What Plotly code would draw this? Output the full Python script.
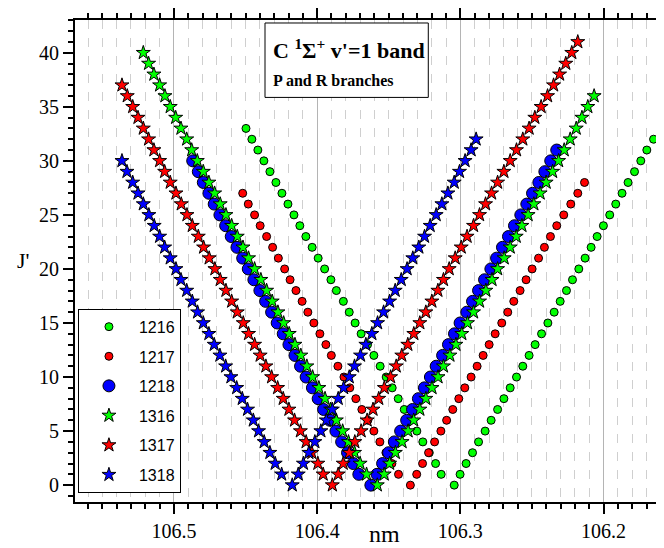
import plotly.graph_objects as go

# ---------------- data (wavelength in nm, J' upper-level rotational number) ----------------
J_1216_P = list(range(33, -1, -1))
nm_1216_P = [106.4497, 106.4456, 106.4414, 106.4372, 106.4330, 106.4288, 106.4246, 106.4204,
             106.4162, 106.4121, 106.4079, 106.4035, 106.3993, 106.3948, 106.3904, 106.3866,
             106.3817, 106.3776, 106.3735, 106.3693, 106.3648, 106.3604, 106.3560, 106.3518,
             106.3476, 106.3434, 106.3392, 106.3348, 106.3304, 106.3262, 106.3217, 106.3173,
             106.3134, 106.3043]
J_1216_R = list(range(1, 33))
nm_1216_R = [106.3002, 106.2960, 106.2915, 106.2873, 106.2827, 106.2785, 106.2740, 106.2696,
             106.2652, 106.2608, 106.2564, 106.2520, 106.2478, 106.2433, 106.2389, 106.2345,
             106.2303, 106.2259, 106.2217, 106.2173, 106.2129, 106.2087, 106.2045, 106.2001,
             106.1957, 106.1915, 106.1871, 106.1829, 106.1784, 106.1740, 106.1698, 106.1651]

J_1217_P = list(range(27, -1, -1))
nm_1217_P = [106.4520, 106.4481, 106.4437, 106.4398, 106.4353, 106.4311, 106.4271, 106.4227,
             106.4189, 106.4148, 106.4105, 106.4065, 106.4023, 106.3981, 106.3939, 106.3901,
             106.3855, 106.3813, 106.3772, 106.3730, 106.3688, 106.3646, 106.3604, 106.3562,
             106.3520, 106.3478, 106.3432, 106.3349]
J_1217_R = list(range(1, 29))
nm_1217_R = [106.3305, 106.3264, 106.3222, 106.3180, 106.3136, 106.3096, 106.3053, 106.3011,
             106.2969, 106.2925, 106.2883, 106.2841, 106.2799, 106.2757, 106.2711, 106.2669,
             106.2627, 106.2583, 106.2541, 106.2499, 106.2454, 106.2413, 106.2371, 106.2327,
             106.2278, 106.2229, 106.2180, 106.2133]

J_1218_P = list(range(30, -1, -1))
nm_1218_P = [106.4869, 106.4830, 106.4795, 106.4756, 106.4719, 106.4679, 106.4639, 106.4600,
             106.4560, 106.4520, 106.4481, 106.4442, 106.4400, 106.4360, 106.4318, 106.4279,
             106.4237, 106.4197, 106.4155, 106.4116, 106.4077, 106.4033, 106.3993, 106.3955,
             106.3911, 106.3869, 106.3829, 106.3788, 106.3748, 106.3709, 106.3625]
J_1218_R = list(range(1, 32))
nm_1218_R = [106.3582, 106.3543, 106.3501, 106.3461, 106.3417, 106.3375, 106.3334, 106.3293,
             106.3251, 106.3209, 106.3169, 106.3124, 106.3083, 106.3041, 106.3002, 106.2955,
             106.2915, 106.2873, 106.2831, 106.2787, 106.2747, 106.2706, 106.2664, 106.2622,
             106.2578, 106.2536, 106.2496, 106.2452, 106.2410, 106.2369, 106.2327]

J_1316_P = list(range(40, -1, -1))
nm_1316_P = [106.5214, 106.5177, 106.5140, 106.5100, 106.5063, 106.5026, 106.4988, 106.4951,
             106.4911, 106.4876, 106.4837, 106.4795, 106.4756, 106.4716, 106.4677, 106.4637,
             106.4597, 106.4558, 106.4518, 106.4479, 106.4437, 106.4393, 106.4353, 106.4314,
             106.4274, 106.4234, 106.4195, 106.4155, 106.4114, 106.4072, 106.4032, 106.3988,
             106.3945, 106.3906, 106.3866, 106.3822, 106.3781, 106.3739, 106.3700, 106.3655,
             106.3580]
J_1316_R = list(range(1, 37))
nm_1316_R = [106.3532, 106.3494, 106.3454, 106.3407, 106.3365, 106.3326, 106.3283, 106.3241,
             106.3198, 106.3156, 106.3118, 106.3073, 106.3031, 106.2990, 106.2950, 106.2908,
             106.2866, 106.2822, 106.2779, 106.2740, 106.2694, 106.2652, 106.2610, 106.2570,
             106.2527, 106.2487, 106.2443, 106.2401, 106.2356, 106.2314, 106.2275, 106.2233,
             106.2191, 106.2151, 106.2110, 106.2066]

J_1317_P = list(range(37, -1, -1))
nm_1317_P = [106.5363, 106.5326, 106.5288, 106.5251, 106.5214, 106.5177, 106.5140, 106.5100,
             106.5065, 106.5026, 106.4986, 106.4949, 106.4909, 106.4872, 106.4830, 106.4793,
             106.4754, 106.4714, 106.4677, 106.4637, 106.4597, 106.4558, 106.4516, 106.4479,
             106.4437, 106.4398, 106.4358, 106.4318, 106.4276, 106.4237, 106.4197, 106.4158,
             106.4117, 106.4077, 106.4037, 106.3995, 106.3958, 106.3894]
J_1317_R = list(range(1, 42))
nm_1317_R = [106.3853, 106.3818, 106.3776, 106.3737, 106.3693, 106.3651, 106.3610, 106.3570,
             106.3531, 106.3487, 106.3448, 106.3409, 106.3367, 106.3325, 106.3283, 106.3241,
             106.3199, 106.3157, 106.3118, 106.3078, 106.3036, 106.2994, 106.2953, 106.2908,
             106.2866, 106.2824, 106.2782, 106.2740, 106.2696, 106.2652, 106.2608, 106.2564,
             106.2520, 106.2480, 106.2436, 106.2391, 106.2349, 106.2307, 106.2264, 106.2222,
             106.2180]

J_1318_P = list(range(30, -1, -1))
nm_1318_P = [106.5363, 106.5328, 106.5288, 106.5251, 106.5214, 106.5175, 106.5138, 106.5100,
             106.5065, 106.5026, 106.4986, 106.4951, 106.4911, 106.4872, 106.4835, 106.4795,
             106.4756, 106.4719, 106.4679, 106.4639, 106.4602, 106.4562, 106.4523, 106.4486,
             106.4446, 106.4409, 106.4370, 106.4330, 106.4293, 106.4248, 106.4174]
J_1318_R = list(range(1, 33))
nm_1318_R = [106.4132, 106.4096, 106.4058, 106.4016, 106.3974, 106.3936, 106.3894, 106.3853,
             106.3815, 106.3776, 106.3739, 106.3697, 106.3660, 106.3618, 106.3578, 106.3536,
             106.3494, 106.3455, 106.3413, 106.3372, 106.3332, 106.3290, 106.3250, 106.3211,
             106.3169, 106.3129, 106.3087, 106.3043, 106.3006, 106.2967, 106.2925, 106.2890]

series_names = ["1216", "1217", "1218", "1316", "1317", "1318"]
x_tick_vals = [106.5, 106.4, 106.3, 106.2]
x_tick_text = ["106.5", "106.4", "106.3", "106.2"]
y_tick_vals = [0, 5, 10, 15, 20, 25, 30, 35, 40]

# ---------------- figure ----------------
series = [
    (nm_1216_P + nm_1216_R, J_1216_P + J_1216_R, "circle", 8, "#00FF00"),
    (nm_1217_P + nm_1217_R, J_1217_P + J_1217_R, "circle", 8, "#FF0000"),
    (nm_1218_P + nm_1218_R, J_1218_P + J_1218_R, "circle", 12, "#0000FF"),
    (nm_1316_P + nm_1316_R, J_1316_P + J_1316_R, "star", 10.5, "#00FF00"),
    (nm_1317_P + nm_1317_R, J_1317_P + J_1317_R, "star", 10.5, "#FF0000"),
    (nm_1318_P + nm_1318_R, J_1318_P + J_1318_R, "star", 10.5, "#0000FF"),
]

fig = go.Figure()
for name, (xs, ys, sym, size, color) in zip(series_names, series):
    fig.add_trace(go.Scatter(
        x=xs, y=ys, mode="markers", name=name, legendgroup=name,
        marker=dict(symbol=sym, size=size, color=color,
                    line=dict(color="black", width=1)),
    ))

serif = "Liberation Serif"
# the page body has an 8 px margin, so the figure is sized/margined to compensate
fig.update_layout(
    width=656, height=540,
    margin=dict(l=67, r=0, t=8, b=46.3),
    paper_bgcolor="white", plot_bgcolor="white",
    font=dict(family=serif, color="black"),
    showlegend=True,
    legend=dict(
        x=0.005, y=0.4009, xanchor="left", yanchor="top",
        bordercolor="black", borderwidth=1, bgcolor="white",
        font=dict(family="Liberation Sans", size=16, color="black"),
        tracegroupgap=5.8, itemsizing="trace", itemwidth=50,
    ),
    xaxis=dict(
        range=[106.5691, 106.1578],
        tickmode="array", tickvals=x_tick_vals, ticktext=x_tick_text,
        ticks="outside", ticklen=10, tickwidth=2, tickcolor="black",
        showline=True, linecolor="black", linewidth=2, mirror="ticks",
        showgrid=True, gridcolor="#b4b4b4", gridwidth=1,
        zeroline=False,
        tickfont=dict(family=serif, size=20, color="black"),
        minor=dict(dtick=0.01, tick0=106.5, ticks="outside", ticklen=5,
                   tickwidth=2, tickcolor="black",
                   showgrid=True, gridcolor="#cfcfcf", griddash="dash", gridwidth=1),
    ),
    yaxis=dict(
        range=[-1.56, 43.03],
        tickmode="array", tickvals=y_tick_vals,
        ticks="outside", ticklen=10, tickwidth=2, tickcolor="black",
        showline=True, linecolor="black", linewidth=2,
        showgrid=False, zeroline=False,
        tickfont=dict(family=serif, size=20, color="black"),
        minor=dict(dtick=1, tick0=0, ticks="outside", ticklen=5,
                   tickwidth=2, tickcolor="black", showgrid=False),
    ),
    shapes=[dict(type="rect", xref="paper", yref="paper",
                 x0=0.3226, x1=0.5998, y0=0.8394, y1=0.9938,
                 line=dict(color="black", width=1), fillcolor="white", layer="above")],
    annotations=[
        dict(text="<b>C <sup>1</sup>Σ<sup>+</sup> v'=1 band</b>", xref="paper", yref="paper",
             x=0.3330, y=0.9403, xanchor="left", yanchor="middle", showarrow=False,
             font=dict(family=serif, size=22, color="black")),
        dict(text="<b>P and R branches</b>", xref="paper", yref="paper",
             x=0.3330, y=0.8736, xanchor="left", yanchor="middle", showarrow=False,
             font=dict(family=serif, size=16, color="black")),
        dict(text="nm", xref="paper", yref="paper", x=0.526, y=-0.0665,
             xanchor="center", yanchor="middle", showarrow=False,
             font=dict(family=serif, size=24, color="black")),
        dict(text="J'", xref="paper", yref="paper", x=-0.0866, y=0.5017,
             xanchor="center", yanchor="middle", showarrow=False,
             font=dict(family=serif, size=22, color="black")),
    ],
)

fig.write_html("out.html")
